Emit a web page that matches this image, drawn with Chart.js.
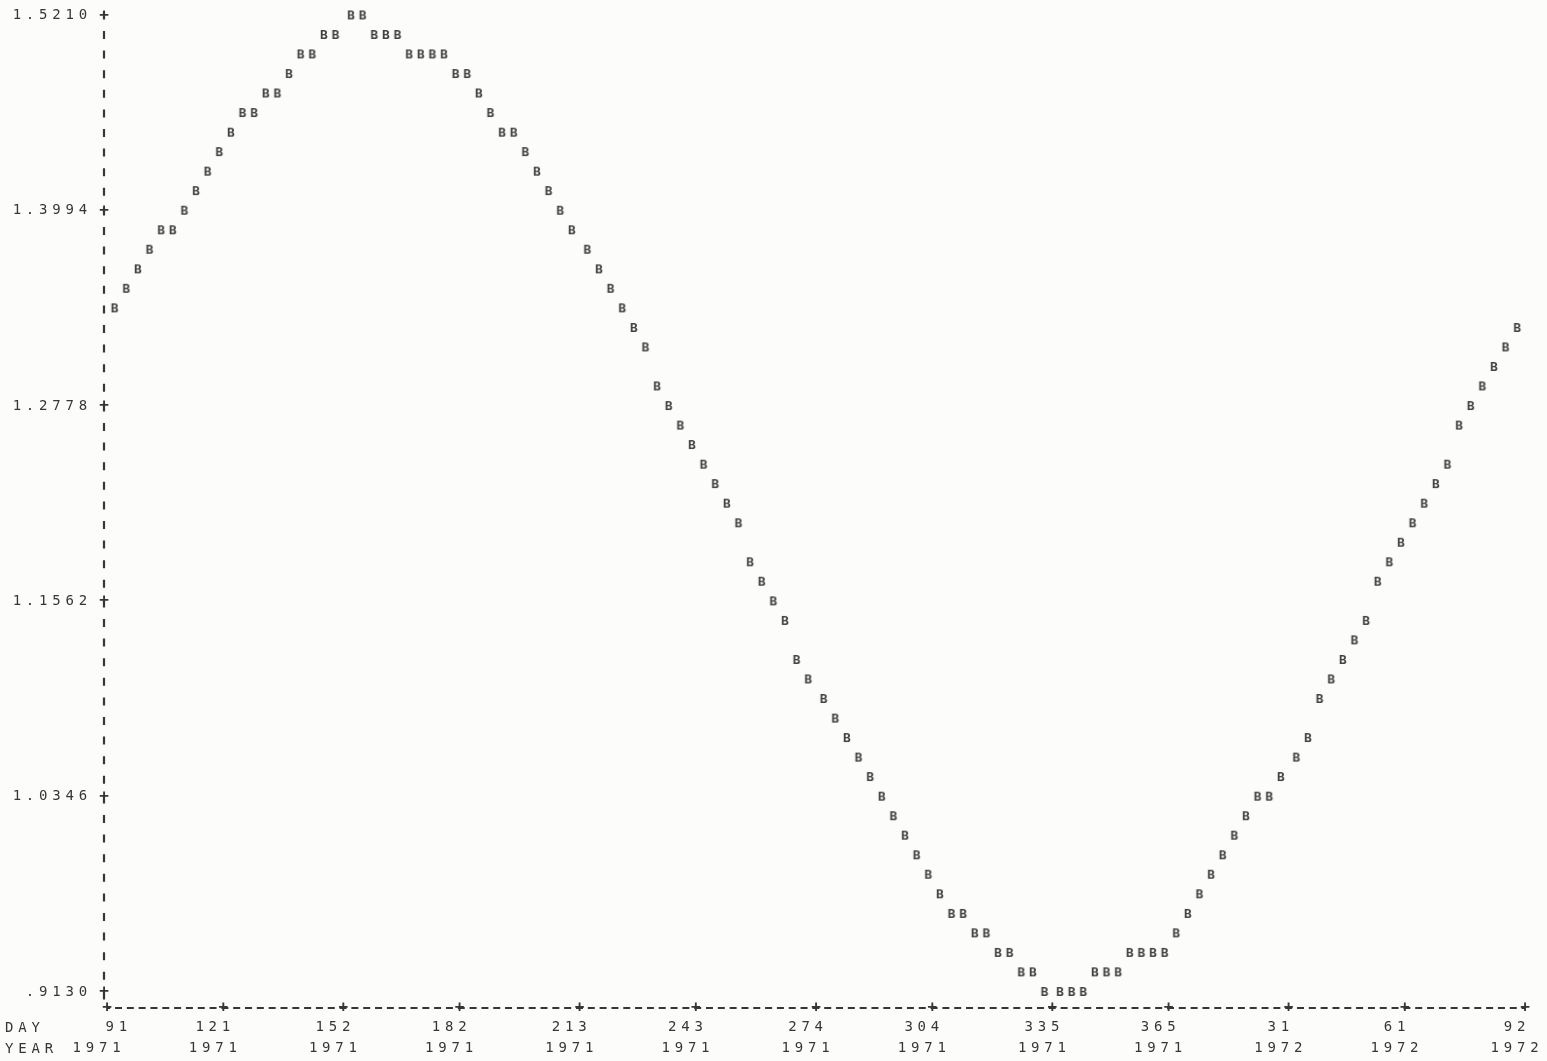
<!DOCTYPE html>
<html>
<head>
<meta charset="utf-8">
<script src="https://cdn.jsdelivr.net/npm/chart.js@4.4.1/dist/chart.umd.min.js"></script>
<style>
    html, body { margin: 0; padding: 0; background: #fcfcfb; }
    #wrap { width: 1547px; height: 1061px; position: relative; }
</style>
</head>
<body>
<div id="wrap"><canvas id="plot"></canvas></div>
<script>
// days counted from day 91 of 1971 (1 April 1971), one printed column each
const dayOffsets = [
    2, 5, 8, 11, 14, 17, 20, 23, 26, 29,
    32, 35, 38, 41, 44, 47, 50, 53, 56, 59,
    63, 66, 69, 72, 75, 78, 81, 84, 87, 90,
    93, 96, 99, 102, 105, 108, 111, 114, 117, 120,
    124, 127, 130, 133, 136, 139, 142, 145, 148, 151,
    154, 157, 160, 163, 166, 169, 172, 175, 178, 181,
    185, 188, 191, 194, 197, 200, 203, 206, 209, 212,
    215, 218, 221, 224, 227, 230, 233, 236, 239, 242,
    246, 249, 252, 255, 258, 261, 264, 267, 270, 273,
    276, 279, 282, 285, 288, 291, 294, 297, 300, 303,
    307, 310, 313, 316, 319, 322, 325, 328, 331, 334,
    337, 340, 343, 346, 349, 352, 355, 358, 361, 364
];

const seriesB = [
    1.3386, 1.3508, 1.3629, 1.3751, 1.3872, 1.3872, 1.3994, 1.4116, 1.4237, 1.4359,
    1.4480, 1.4602, 1.4602, 1.4724, 1.4724, 1.4845, 1.4967, 1.4967, 1.5088, 1.5088,
    1.5210, 1.5210, 1.5088, 1.5088, 1.5088, 1.4967, 1.4967, 1.4967, 1.4967, 1.4845,
    1.4845, 1.4724, 1.4602, 1.4480, 1.4480, 1.4359, 1.4237, 1.4116, 1.3994, 1.3872,
    1.3751, 1.3629, 1.3508, 1.3386, 1.3264, 1.3143, 1.2900, 1.2778, 1.2656, 1.2535,
    1.2413, 1.2292, 1.2170, 1.2048, 1.1805, 1.1684, 1.1562, 1.1440, 1.1197, 1.1076,
    1.0954, 1.0832, 1.0711, 1.0589, 1.0468, 1.0346, 1.0224, 1.0103, 0.9981, 0.9860,
    0.9738, 0.9616, 0.9616, 0.9495, 0.9495, 0.9373, 0.9373, 0.9252, 0.9252, 0.9130,
    0.9130, 0.9130, 0.9130, 0.9252, 0.9252, 0.9252, 0.9373, 0.9373, 0.9373, 0.9373,
    0.9495, 0.9616, 0.9738, 0.9860, 0.9981, 1.0103, 1.0224, 1.0346, 1.0346, 1.0468,
    1.0589, 1.0711, 1.0954, 1.1076, 1.1197, 1.1319, 1.1440, 1.1684, 1.1805, 1.1927,
    1.2048, 1.2170, 1.2292, 1.2413, 1.2656, 1.2778, 1.2900, 1.3021, 1.3143, 1.3264
];

const yTicks = [1.5210, 1.3994, 1.2778, 1.1562, 1.0346, 0.9130];

const xTickDays = [0, 30, 61, 91, 122, 152, 183, 213, 244, 274, 305, 335, 366];
const xTickDayLabels = ["   91", "121", "152", "182", "213", "243", "274", "304", "335", "365", "31", "61", "92"];
const xTickYearLabels = ["1971", "1971", "1971", "1971", "1971", "1971", "1971", "1971", "1971", "1971", "1972", "1972", "1972"];

const INK = "#363636";
const MONO = "'DejaVu Sans Mono', 'Liberation Mono', monospace";
const SPACING = "4.8px";

// printed "B" used as plotting symbol
function makeGlyph() {
    const c = document.createElement("canvas");
    c.width = 14;
    c.height = 16;
    const g = c.getContext("2d");
    g.fillStyle = "#424242";
    g.font = "bold 13px " + MONO;
    g.textAlign = "center";
    g.textBaseline = "middle";
    g.fillText("B", 7, 8.5);
    return c;
}

// dashed printer axes with "+" at each labelled tick
const printerLook = {
    id: "printerLook",
    beforeDraw(chart) {
        chart.ctx.letterSpacing = SPACING;
    },
    afterDraw(chart) {
        const ctx = chart.ctx;
        const xs = chart.scales.x;
        const ys = chart.scales.y;
        const left = xs.getPixelForValue(0);
        const right = xs.getPixelForValue(366);
        const top = ys.getPixelForValue(yTicks[0]);
        const axisY = ys.bottom;
        const axisX = left - 3;

        ctx.save();
        ctx.strokeStyle = INK;

        ctx.lineWidth = 2.2;
        ctx.setLineDash([8, 11.6]);
        ctx.beginPath();
        ctx.moveTo(axisX, top - 4);
        ctx.lineTo(axisX, axisY - 6);
        ctx.stroke();

        ctx.lineWidth = 2;
        ctx.setLineDash([7, 4.82]);
        ctx.lineDashOffset = -8;
        ctx.beginPath();
        ctx.moveTo(left, axisY);
        ctx.lineTo(right, axisY);
        ctx.stroke();
        ctx.setLineDash([]);

        ctx.letterSpacing = "0px";
        ctx.fillStyle = INK;
        ctx.font = "bold 16px " + MONO;
        ctx.textAlign = "center";
        ctx.textBaseline = "middle";
        yTicks.forEach(v => ctx.fillText("+", axisX, ys.getPixelForValue(v)));
        xTickDays.forEach(v => ctx.fillText("+", xs.getPixelForValue(v), axisY));

        ctx.letterSpacing = SPACING;
        ctx.font = "14px " + MONO;
        ctx.textAlign = "left";
        ctx.fillText("DAY", 5, axisY + 20);
        ctx.fillText("YEAR", 5, axisY + 41);
        ctx.restore();
    }
};

const points = dayOffsets.map((d, i) => ({x: d, y: seriesB[i]}));

new Chart(document.getElementById("plot").getContext("2d"), {
    type: "scatter",
    data: {
        datasets: [{
            label: "B",
            data: points,
            pointStyle: makeGlyph(),
            showLine: false,
            clip: false
        }]
    },
    options: {
        responsive: true,
        maintainAspectRatio: false,
        animation: false,
        layout: {padding: {top: 12, right: 22, left: 0, bottom: 0}},
        plugins: {
            legend: {display: false},
            tooltip: {enabled: false}
        },
        scales: {
            x: {
                type: "linear",
                min: 0,
                max: 366,
                afterBuildTicks: (scale) => {
                    scale.ticks = xTickDays.map(v => ({value: v}));
                },
                afterFit: (scale) => {
                    scale.height = 53;
                },
                border: {display: false},
                grid: {drawOnChartArea: false, drawTicks: true, tickLength: 5, color: "rgba(0,0,0,0)"},
                ticks: {
                    color: INK,
                    font: {family: MONO, size: 14, lineHeight: 1.5},
                    padding: 4,
                    labelOffset: -8,
                    maxRotation: 0,
                    autoSkip: false,
                    callback: (value) => {
                        const i = xTickDays.indexOf(value);
                        return i < 0 ? "" : [xTickDayLabels[i], xTickYearLabels[i]];
                    }
                }
            },
            y: {
                type: "linear",
                min: 0.9030,
                max: 1.5210,
                afterBuildTicks: (scale) => {
                    scale.ticks = yTicks.map(v => ({value: v}));
                },
                afterFit: (scale) => {
                    scale.width = 107;
                },
                border: {display: false},
                grid: {drawOnChartArea: false, drawTicks: true, tickLength: 8, color: "rgba(0,0,0,0)"},
                ticks: {
                    color: INK,
                    font: {family: MONO, size: 14},
                    padding: 7,
                    callback: (value) => {
                        const s = Number(value).toFixed(4);
                        return value < 1 ? s.replace(/^0/, "") : s;
                    }
                }
            }
        }
    },
    plugins: [printerLook]
});
</script>
</body>
</html>
